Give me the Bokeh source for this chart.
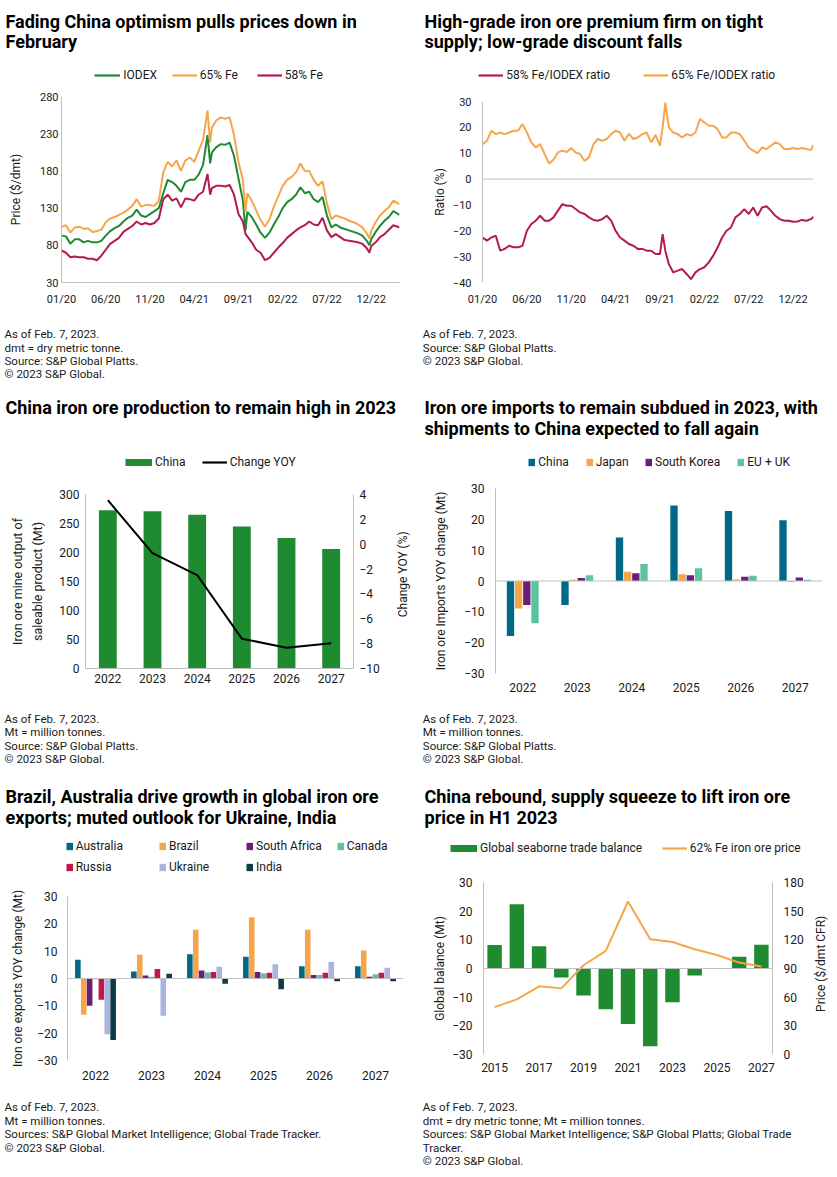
import math
from bokeh.plotting import figure
from bokeh.models import (Range1d, FactorRange, LinearAxis, FixedTicker, Span, Legend,
                          LegendItem, ColumnDataSource)
from bokeh.layouts import column, row
from bokeh.transform import dodge
from bokeh.core.properties import value
from bokeh.embed import file_html
from bokeh.resources import INLINE

# ============================ DATA ============================
# Panel 1: prices ($/dmt); x = months since Jan 2020
PRICE_MONTHS = [0, 0.5, 1, 1.5, 2, 2.5, 3, 3.5, 4, 4.5, 5, 5.5, 6, 6.5, 7, 7.5, 8, 8.5, 9, 9.5,
                10, 10.5, 11, 11.5, 12, 12.5, 13, 13.5, 14, 14.5, 15, 15.5, 16, 16.5, 16.8,
                17, 17.5, 18, 18.5, 19, 19.5, 20, 20.5, 20.8,
                21, 21.5, 22, 22.5, 23, 23.5, 24, 24.5, 25, 25.5, 26, 26.5, 27, 27.5, 28, 28.5,
                29, 29.5, 30, 30.5, 31, 31.5, 32, 32.5, 33, 33.5, 34, 34.5, 34.8,
                35, 35.5, 36, 36.5, 37, 37.5, 38.2]
IODEX = [93, 92, 82, 88, 88, 84, 86, 84, 84, 86, 93, 99, 103, 106, 112, 117, 120, 128, 120, 118,
         122, 126, 130, 150, 168, 165, 160, 152, 165, 168, 168, 175, 188, 228, 190,
         205, 212, 216, 215, 218, 200, 170, 140, 100,
         125, 118, 108, 97, 90, 97, 108, 118, 130, 138, 142, 148, 158, 150, 152, 142,
         138, 145, 120, 104, 108, 104, 102, 100, 98, 96, 93, 86, 80,
         88, 98, 106, 113, 118, 126, 121]
FE65 = [105, 107, 97, 104, 105, 102, 103, 98, 99, 101, 111, 116, 118, 121, 124, 128, 133, 142, 132, 134,
        134, 133, 140, 178, 192, 186, 194, 180, 194, 198, 192, 207, 222, 261, 218,
        238, 248, 252, 250, 252, 228, 192, 168, 125,
        150, 140, 127, 114, 105, 115, 132, 146, 160, 168, 172, 178, 190, 180, 180, 168,
        160, 166, 136, 115, 120, 118, 116, 113, 111, 108, 104, 96, 89,
        99, 111, 120, 126, 131, 140, 135]
FE58 = [73, 70, 64, 65, 64, 64, 62, 62, 60, 66, 74, 82, 86, 90, 98, 102, 106, 112, 108, 110,
        108, 110, 116, 142, 148, 140, 143, 131, 143, 142, 140, 148, 152, 176, 148,
        157, 160, 160, 159, 161, 148, 122, 112, 95,
        92, 84, 74, 70, 60, 63, 70, 77, 83, 90, 95, 100, 104, 107, 112, 108,
        107, 117, 100, 91, 95, 91, 87, 86, 85, 84, 82, 76, 70,
        79, 84, 91, 95, 101, 107, 104]
TIME_TICKS = [0, 5, 10, 15, 20, 25, 30, 35]
TIME_TICK_LABELS = ["01/20", "06/20", "11/20", "04/21", "09/21", "02/22", "07/22", "12/22"]
PRICE_TICKS = [30, 80, 130, 180, 230, 280]

# Panel 2: ratios (%)
RATIO_MONTHS = [0, 0.5, 1, 1.5, 2, 2.5, 3, 3.5, 4, 4.5, 5, 5.5, 6, 6.5, 7, 7.5, 8, 8.5, 9, 9.5,
                10, 10.5, 11, 11.5, 12, 12.5, 13, 13.5, 14, 14.5, 15, 15.5, 16, 16.5, 17, 17.5,
                18, 18.5, 19, 19.5, 20, 20.3, 20.6,
                21, 21.5, 22, 22.5, 23, 23.5, 24, 24.5, 25, 25.5, 26, 26.5, 27, 27.5, 28, 28.5,
                29, 29.5, 30, 30.5, 31, 31.5, 32, 32.5, 33, 33.5, 34, 34.5, 35, 35.5, 36, 36.5,
                37, 37.3]
RATIO65 = [13.5, 14.8, 18.7, 17.4, 18, 17.4, 18, 18.7, 18.7, 21.3, 18, 14.2, 12.2, 13.5, 9.7, 6,
           7.5, 10.3, 11, 10.5, 12, 10.3, 9.7, 7, 8.4, 13.5, 15.5, 14.8, 15.5, 17.4, 18.7, 18,
           14.8, 17.5, 15.5, 16.1, 17.4, 18, 14.2, 17, 12.9, 20, 29.6,
           20, 18, 17.4, 16.1, 17.4, 16.8, 18, 23.2, 21.9, 20.6, 20.6, 19.3, 16.1, 16.1, 18, 18,
           17.4, 14.8, 12.2, 11, 10, 12.2, 11.6, 12.9, 14.2, 13.5, 11.6, 11.6, 12, 11.6, 12, 11.6,
           11.2, 13.2]
RATIO58 = [-22.6, -23.8, -22.6, -21.9, -27.7, -27, -25.8, -26.4, -26.4, -25.8, -20, -17.4, -16.1,
           -14.2, -16.1, -16.1, -14.8, -12.2, -9.7, -10.3, -10.3, -11.6, -12.9, -13.5, -14.8,
           -15.8, -16.1, -15.5, -14.2, -16.1, -20, -22.6, -23.8, -25.1, -25.8, -27, -27, -27.7,
           -27.7, -29, -29, -21.3, -27.7,
           -32.9, -36.1, -35.4, -34.8, -36.7, -38.7, -36.1, -34.8, -34.1, -32.2, -29.6, -26.4,
           -22.6, -20, -18.7, -14.8, -13.5, -11.6, -13.5, -11, -14.2, -11, -10.5, -12.2, -14.2,
           -15.5, -16.1, -16.1, -16.5, -16.4, -15.8, -16.1, -15.5, -14.6]
RATIO_TICKS = [-40, -30, -20, -10, 0, 10, 20, 30]

# Panel 3: China mine output (Mt) and YOY change (%)
YEARS = ["2022", "2023", "2024", "2025", "2026", "2027"]
PROD_CHINA = [273, 271, 265, 245, 225, 206]
PROD_YOY = [3.54, -0.72, -2.48, -7.6, -8.33, -7.97]
PROD_TICKS = [0, 50, 100, 150, 200, 250, 300]
YOY_TICKS = [-10, -8, -6, -4, -2, 0, 2, 4]

# Panel 4: imports YOY change (Mt)
IMP_CHINA = [-17.8, -7.8, 14.1, 24.5, 22.7, 19.7]
IMP_JAPAN = [-8.9, 0.4, 3.0, 2.2, 0.5, -0.3]
IMP_SKOREA = [-7.8, 1.0, 2.5, 1.9, 1.4, 1.1]
IMP_EUUK = [-13.7, 1.9, 5.5, 4.1, 1.7, 0.4]
CHANGE_TICKS = [-30, -20, -10, 0, 10, 20, 30]

# Panel 5: exports YOY change (Mt)
EXP_AUS = [6.9, 2.6, 8.9, 8.0, 4.5, 4.5]
EXP_BRA = [-13.3, 8.7, 17.8, 22.4, 17.8, 10.2]
EXP_SAF = [-10.0, 1.1, 2.9, 2.4, 1.3, 0.6]
EXP_CAN = [-0.3, 0.6, 2.2, 1.8, 1.3, 1.6]
EXP_RUS = [-7.8, 3.5, 2.4, 2.1, 2.1, 2.1]
EXP_UKR = [-20.4, -13.6, 4.3, 5.2, 6.0, 3.9]
EXP_IND = [-22.5, 1.7, -1.9, -3.9, -1.0, -1.0]

# Panel 6: seaborne balance (Mt) and 62% Fe price ($/dmt CFR)
BAL_YEARS = [2015, 2016, 2017, 2018, 2019, 2020, 2021, 2022, 2023, 2024, 2025, 2026, 2027]
BALANCE = [8.2, 22.4, 7.8, -3.1, -9.4, -14.2, -19.4, -27.1, -11.8, -2.4, 0.1, 4.1, 8.3]
PRICE62 = [49.6, 57.7, 71.3, 69.2, 93.4, 108.4, 160.1, 120.6, 117.8, 110.1, 104.2, 96.2, 92.0]
BAL_TICKS = [2015, 2017, 2019, 2021, 2023, 2025, 2027]
BAL_TICK_LABELS = ["2015", "2017", "2019", "2021", "2023", "2025", "2027"]
PRICE62_TICKS = [0, 30, 60, 90, 120, 150, 180]

# ============================ STYLE ============================
FONT = "Roboto"
TXT = "#1a1a1a"
AXG = "#BFBFBF"
GREEN = "#1F8A34"
BARGREEN = "#1E8B30"
ORANGE = "#F5A64B"
CRIMSON = "#B51A4F"
TEAL = "#006987"
PURPLE = "#6A1E7A"
MINT = "#5CC3A0"
RUSSIA = "#C0184D"
UKR = "#AAB3E2"
INDIA = "#0D3B47"
TITLE = 18
NOTE = 11.5
LEG = 12
NAN = float("nan")


def text_fig(W, H, top=0, bottom=0, y_range=None):
    f = figure(width=W, height=H, x_range=Range1d(0, W),
               y_range=y_range if y_range is not None else Range1d(H, 0),
               x_axis_type=None, y_axis_type=None, output_backend="svg",
               toolbar_location=None, min_border=0, min_border_left=0, min_border_right=0,
               min_border_top=top, min_border_bottom=bottom)
    f.outline_line_color = None
    f.grid.visible = False
    f.background_fill_color = "white"
    f.border_fill_color = "white"
    return f


def put_text(f, s, x, y, size, bold=False, color=TXT, angle=0.0, align="left"):
    f.text(x=[x], y=[y], text=[s], text_font=value(FONT), text_font_size=value(f"{size}px"),
           text_font_style=value("bold" if bold else "normal"), text_color=value(color),
           text_align=value(align), text_baseline=value("middle"), angle=angle)


class Panel:
    """One chart block: header (title + legend), plot (+ optional right label strip), footer."""

    def __init__(self, W, H, L, R, T, B, x_range, y_range, tick_size, side_w=0):
        self.W, self.H = W, H
        self.header_h = T - 8
        self.frame_h = H - B - T
        self.plot_h = 8 + self.frame_h + 30
        self.footer_h = H - self.header_h - self.plot_h
        self.foot_off = self.header_h + self.plot_h
        self.side_w = side_w
        self.head = text_fig(W, self.header_h)
        self.foot = text_fig(W, self.footer_h)
        self.side = None
        if side_w:
            self.side = text_fig(side_w, self.plot_h, top=8, bottom=30,
                                 y_range=Range1d(0, self.frame_h))
        p = figure(width=W - side_w, height=self.plot_h, x_range=x_range, y_range=y_range,
                   output_backend="svg", toolbar_location=None,
                   min_border_left=L, min_border_right=R - side_w,
                   min_border_top=8, min_border_bottom=30)
        p.outline_line_color = None
        p.xgrid.visible = False
        p.ygrid.visible = False
        p.background_fill_color = "white"
        p.border_fill_color = "white"
        self.p = p
        self.tick_size = tick_size

    def title(self, rows, x, y0, step):
        for i, s in enumerate(rows):
            put_text(self.head, s, x, y0 + i * step, TITLE, bold=True, color="#000")

    def notes(self, rows, x, y0, step):
        for i, s in enumerate(rows):
            put_text(self.foot, s, x, y0 + i * step - self.foot_off, NOTE)

    def right_label(self, s, x_rel, y_rel):
        # x_rel / y_rel: label centre in block pixels (from block top-left)
        x = x_rel - (self.W - self.side_w)
        y = (self.header_h + 8 + self.frame_h) - y_rel
        put_text(self.side, s, x, y, 12, angle=math.pi / 2, align="center")

    def legend_item(self, label, color, lw, x, y, gw, standoff=3):
        proxy = self.head.line(x=[NAN], y=[NAN], line_color=color, line_width=lw)
        lg = Legend(items=[LegendItem(label=label, renderers=[proxy])],
                    location=(x, self.header_h - y - 7),
                    orientation="horizontal", glyph_width=int(round(gw)), glyph_height=14,
                    label_height=14, label_standoff=standoff, padding=0, margin=0, spacing=0,
                    border_line_color=None, background_fill_alpha=0,
                    label_text_font=FONT, label_text_font_size=f"{LEG}px",
                    label_text_color=TXT)
        self.head.add_layout(lg)

    def axis(self, ax, standoff, line=True, label=None, label_standoff=5,
             label_size=12, line_height=1.2):
        ax.axis_line_color = AXG if line else None
        ax.axis_line_width = 1
        ax.major_tick_line_color = None
        ax.minor_tick_line_color = None
        ax.major_tick_in = 0
        ax.major_tick_out = 0
        ax.minor_tick_in = 0
        ax.minor_tick_out = 0
        ax.major_label_standoff = standoff
        ax.major_label_text_font = FONT
        ax.major_label_text_font_size = f"{self.tick_size}px"
        ax.major_label_text_color = TXT
        if label is not None:
            ax.axis_label = label
            ax.axis_label_standoff = label_standoff
            ax.axis_label_text_font = FONT
            ax.axis_label_text_font_size = f"{label_size}px"
            ax.axis_label_text_font_style = "normal"
            ax.axis_label_text_color = TXT
            ax.axis_label_text_line_height = line_height

    def block(self):
        mid = row(self.p, self.side) if self.side is not None else self.p
        return column(row(self.head), mid, row(self.foot))


def zero_line(p):
    p.add_layout(Span(location=0, dimension="width", line_color=AXG, line_width=1))


# ============================ PANEL 1 ============================
P1 = Panel(418, 393, 61, 19, 96, 111, Range1d(0, 38.2), Range1d(30, 280), 11)
p = P1.p
p.line(PRICE_MONTHS, IODEX, line_color=GREEN, line_width=2)
p.line(PRICE_MONTHS, FE65, line_color=ORANGE, line_width=2)
p.line(PRICE_MONTHS, FE58, line_color=CRIMSON, line_width=2)
p.xaxis.ticker = FixedTicker(ticks=TIME_TICKS)
p.xaxis.major_label_overrides = dict(zip(TIME_TICKS, TIME_TICK_LABELS))
p.yaxis.ticker = FixedTicker(ticks=PRICE_TICKS)
P1.axis(p.xaxis[0], 10)
P1.axis(p.yaxis[0], 3, label="Price ($/dmt)", label_standoff=14)
P1.title(["Fading China optimism pulls prices down in", "February"], 5, 20.7, 19.8)
P1.legend_item("IODEX", GREEN, 2.2, 94.3, 75, 26)
P1.legend_item("65% Fe", ORANGE, 2.2, 171.7, 75, 25)
P1.legend_item("58% Fe", CRIMSON, 2.2, 256.7, 75, 25)
P1.notes(["As of Feb. 7, 2023.", "dmt = dry metric tonne.", "Source: S&P Global Platts.",
          "\u00a9 2023 S&P Global."], 4, 333.7, 13.4)

# ============================ PANEL 2 ============================
P2 = Panel(419, 393, 64, 24, 101, 111, Range1d(0, 37.3), Range1d(-40, 30), 11)
p = P2.p
zero_line(p)
p.line(RATIO_MONTHS, RATIO58, line_color=CRIMSON, line_width=2)
p.line(RATIO_MONTHS, RATIO65, line_color=ORANGE, line_width=2)
p.xaxis.ticker = FixedTicker(ticks=TIME_TICKS)
p.xaxis.major_label_overrides = dict(zip(TIME_TICKS, TIME_TICK_LABELS))
p.yaxis.ticker = FixedTicker(ticks=RATIO_TICKS)
P2.axis(p.xaxis[0], 10, line=False)
P2.axis(p.yaxis[0], 11, label="Ratio (%)", label_standoff=3)
P2.title(["High-grade iron ore premium firm on tight", "supply; low-grade discount falls"],
         6, 20.7, 19.8)
P2.legend_item("58% Fe/IODEX ratio", CRIMSON, 2.2, 60.3, 75, 25)
P2.legend_item("65% Fe/IODEX ratio", ORANGE, 2.2, 225.3, 75, 25)
P2.notes(["As of Feb. 7, 2023.", "Source: S&P Global Platts.", "\u00a9 2023 S&P Global."],
         4.3, 333.7, 13.4)

# ============================ PANEL 3 ============================
P3 = Panel(418, 385, 85, 65, 101, 110, FactorRange(*YEARS), Range1d(0, 300), 12, side_w=30)
p = P3.p
p.extra_y_ranges = {"yoy": Range1d(-10, 4)}
p.vbar(x=YEARS, top=PROD_CHINA, width=0.4, fill_color=BARGREEN, line_color=None)
p.line(YEARS, PROD_YOY, y_range_name="yoy", line_color="black", line_width=2)
ax_r = LinearAxis(y_range_name="yoy", ticker=FixedTicker(ticks=YOY_TICKS))
p.add_layout(ax_r, "right")
p.yaxis[0].ticker = FixedTicker(ticks=PROD_TICKS)
P3.axis(p.xaxis[0], 5)
P3.axis(p.yaxis[0], 6, label="Iron ore mine output of\nsaleable product (Mt)",
        label_standoff=11, label_size=12.5, line_height=1.35)
P3.axis(ax_r, 6)
P3.right_label("Change YOY  (%)", 402, 179.3)
P3.title(["China iron ore production to remain high in 2023"], 5, 14, 20)
P3.legend_item("China", BARGREEN, 7, 125, 69.3, 26.7)
P3.legend_item("Change YOY", "black", 2.2, 201.7, 69.3, 25)
P3.notes(["As of Feb. 7, 2023.", "Mt = million tonnes.", "Source: S&P Global Platts.",
          "\u00a9 2023 S&P Global."], 4, 325.5, 13.4)

# ============================ PANEL 4 ============================
P4 = Panel(419, 385, 77, 15, 95, 105, FactorRange(*YEARS), Range1d(-30, 30), 12)
p = P4.p
zero_line(p)
src4 = ColumnDataSource(dict(year=YEARS, china=IMP_CHINA, japan=IMP_JAPAN,
                             skorea=IMP_SKOREA, euuk=IMP_EUUK))
imp_series = [("china", "China", TEAL), ("japan", "Japan", ORANGE),
              ("skorea", "South Korea", PURPLE), ("euuk", "EU + UK", MINT)]
imp_leg_x = [110.3, 167.7, 227, 319.3]
for i, (col, name, colr) in enumerate(imp_series):
    p.vbar(x=dodge("year", (i - 1.5) * 0.15, range=p.x_range), top=col, width=0.135,
           source=src4, fill_color=colr, line_color=None)
    P4.legend_item(name, colr, 7.3, imp_leg_x[i], 69.3, 7.3)
p.yaxis.ticker = FixedTicker(ticks=CHANGE_TICKS)
P4.axis(p.xaxis[0], 9, line=False)
P4.axis(p.yaxis[0], 11, label="Iron ore Imports YOY change (Mt)", label_standoff=13)
P4.title(["Iron ore imports to remain subdued in 2023, with",
          "shipments to China expected to fall again"], 6, 14, 20.5)
P4.notes(["As of Feb. 7, 2023.", "Mt = million tonnes.", "Source: S&P Global Platts.",
          "\u00a9 2023 S&P Global."], 4.3, 325.5, 13.4)

# ============================ PANEL 5 ============================
P5 = Panel(418, 399, 67, 15, 118, 117, FactorRange(*YEARS), Range1d(-30, 30), 12)
p = P5.p
zero_line(p)
src5 = ColumnDataSource(dict(year=YEARS, aus=EXP_AUS, bra=EXP_BRA, saf=EXP_SAF, can=EXP_CAN,
                             rus=EXP_RUS, ukr=EXP_UKR, ind=EXP_IND))
exp_series = [("aus", "Australia", TEAL), ("bra", "Brazil", ORANGE),
              ("saf", "South Africa", PURPLE), ("can", "Canada", MINT),
              ("rus", "Russia", RUSSIA), ("ukr", "Ukraine", UKR), ("ind", "India", INDIA)]
exp_leg_pos = [(65.7, 67.7), (159, 67.7), (246, 67.7), (336.7, 67.7),
               (65.7, 89.3), (159, 89.3), (246, 89.3)]
for i, (col, name, colr) in enumerate(exp_series):
    p.vbar(x=dodge("year", (i - 3) * 0.105, range=p.x_range), top=col, width=0.1,
           source=src5, fill_color=colr, line_color=None)
    P5.legend_item(name, colr, 7.3, exp_leg_pos[i][0], exp_leg_pos[i][1], 7.3)
p.yaxis.ticker = FixedTicker(ticks=CHANGE_TICKS)
P5.axis(p.xaxis[0], 10, line=False)
P5.axis(p.yaxis[0], 10, label="Iron ore exports YOY change (Mt)", label_standoff=9)
P5.title(["Brazil, Australia drive growth in global iron ore",
          "exports; muted outlook for Ukraine, India"], 5, 18, 21)
P5.notes(["As of Feb. 7, 2023.", "Mt = million tonnes.",
          "Sources: S&P Global Market Intelligence; Global Trade Tracker.",
          "\u00a9 2023 S&P Global."], 4, 328.7, 13.5)

# ============================ PANEL 6 ============================
P6 = Panel(419, 399, 65, 65, 104, 123, Range1d(2014.5, 2027.5), Range1d(-30, 30), 12, side_w=30)
p = P6.p
zero_line(p)
p.extra_y_ranges = {"price": Range1d(0, 180)}
p.vbar(x=BAL_YEARS, top=BALANCE, width=0.65, fill_color=BARGREEN, line_color=None)
p.line(BAL_YEARS, PRICE62, y_range_name="price", line_color=ORANGE, line_width=2)
ax_r6 = LinearAxis(y_range_name="price", ticker=FixedTicker(ticks=PRICE62_TICKS))
p.add_layout(ax_r6, "right")
p.xaxis.ticker = FixedTicker(ticks=BAL_TICKS)
p.xaxis.major_label_overrides = dict(zip(BAL_TICKS, BAL_TICK_LABELS))
p.yaxis[0].ticker = FixedTicker(ticks=CHANGE_TICKS)
P6.axis(p.xaxis[0], 8, line=False)
P6.axis(p.yaxis[0], 11, label="Global balance (Mt)", label_standoff=2)
P6.axis(ax_r6, 11)
P6.right_label("Price ($/dmt CFR)", 402.3, 185.3)
P6.title(["China rebound, supply squeeze to lift iron ore", "price in H1 2023"], 6, 18, 21)
P6.legend_item("Global seaborne trade balance", BARGREEN, 7, 32, 70.3, 26.7)
P6.legend_item("62% Fe iron ore price", ORANGE, 2.2, 243.7, 70.3, 25)
P6.notes(["As of Feb. 7, 2023.", "dmt = dry metric tonne; Mt = million tonnes.",
          "Sources: S&P Global Market Intelligence; S&P Global Platts; Global Trade",
          "Tracker.", "\u00a9 2023 S&P Global."], 4.3, 328.7, 13.5)

layout = column(row(P1.block(), P2.block()), row(P3.block(), P4.block()),
                row(P5.block(), P6.block()))
open("out.html", "w").write(file_html(layout, INLINE, "Iron ore charts"))
